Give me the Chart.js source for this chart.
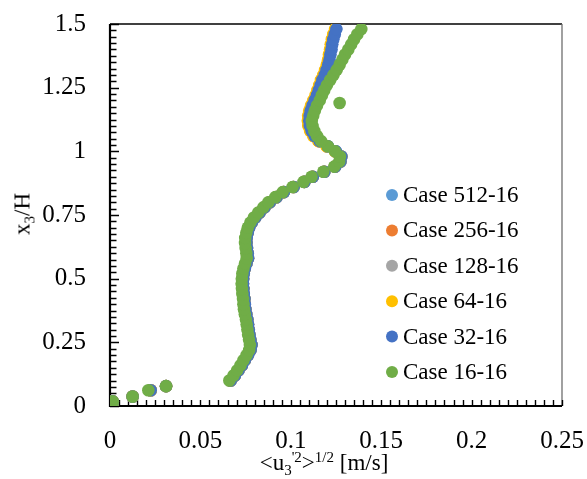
<!DOCTYPE html>
<html>
<head>
<meta charset="utf-8">
<script src="https://cdn.jsdelivr.net/npm/chart.js@4.4.1/dist/chart.umd.min.js"></script>
<style>
  html, body { margin: 0; padding: 0; background: #fff; }
  #wrap { position: relative; width: 587px; height: 479px; }
  .ttl { position: absolute; font-family: 'Liberation Serif', 'Times New Roman', serif; font-size: 23px; line-height: 23px; color: #000; white-space: nowrap; }
  .ttl sub, .ttl sup { font-size: 15px; line-height: 0; }
  .ttl sub { vertical-align: -5px; }
  .ttl sup { vertical-align: 8px; }
  #xt { left: 324px; top: 451px; transform: translateX(-50%); }
  #yt { left: 22px; top: 214px; transform: translate(-50%, -50%) rotate(-90deg); }
</style>
</head>
<body>
<div id="wrap">
  <canvas id="c" width="587" height="479"></canvas>
  <div class="ttl" id="xt">&lt;u<sub>3</sub><sup>'2</sup>&gt;<sup>1/2</sup> [m/s]</div>
  <div class="ttl" id="yt">x<sub>3</sub>/H</div>
</div>
<script>
// ---- data ----
const caseLabels = ['Case 512-16', 'Case 256-16', 'Case 128-16', 'Case 64-16', 'Case 32-16', 'Case 16-16'];
const caseColors = ['#5B9BD5', '#ED7D31', '#A5A5A5', '#FFC000', '#4472C4', '#70AD47'];
const xTickLabels = ['0', '0.05', '0.1', '0.15', '0.2', '0.25'];
const yTickLabels = ['0', '0.25', '0.5', '0.75', '1', '1.25', '1.5'];

// x3/H levels shared by all cases
const heights = [0, 0.006, 0.012, 0.018, 0.037, 0.062, 0.078,
  0.10, 0.12, 0.14, 0.16, 0.18, 0.20, 0.22, 0.24, 0.26, 0.28,
  0.30, 0.32, 0.34, 0.36, 0.38, 0.40, 0.42, 0.44, 0.46, 0.48,
  0.50, 0.52, 0.54, 0.56, 0.58, 0.60, 0.62, 0.64, 0.66, 0.68,
  0.70, 0.72, 0.74, 0.76, 0.78, 0.80, 0.82, 0.84, 0.86, 0.88,
  0.90, 0.92, 0.94, 0.96, 0.98, 1.00, 1.02, 1.04, 1.06, 1.08,
  1.10, 1.12, 1.14, 1.16, 1.18, 1.20, 1.22, 1.24, 1.26, 1.28,
  1.30, 1.32, 1.34, 1.36, 1.38, 1.40, 1.42, 1.44, 1.46, 1.48];

const rms512 = [0.0012, 0.0010, 0.0012, 0.0015, 0.0125, 0.0225, 0.0310,
  0.0667, 0.0690, 0.0710, 0.0729, 0.0745, 0.0763, 0.0777, 0.0782, 0.0776, 0.0771,
  0.0767, 0.0763, 0.0759, 0.0753, 0.0748, 0.0745, 0.0743, 0.0739, 0.0737, 0.0735,
  0.0736, 0.0739, 0.0745, 0.0754, 0.0763, 0.0761, 0.0757, 0.0754, 0.0755, 0.0761,
  0.0769, 0.0783, 0.0803, 0.0827, 0.0854, 0.0883, 0.0920, 0.0961, 0.1015, 0.1075,
  0.1121, 0.1185, 0.1245, 0.1274, 0.1279, 0.1248, 0.1203, 0.1158, 0.1130, 0.1113,
  0.1103, 0.1100, 0.1102, 0.1108, 0.1118, 0.1130, 0.1143, 0.1153, 0.1163, 0.1173,
  0.1186, 0.1196, 0.1205, 0.1212, 0.1217, 0.1223, 0.1227, 0.1233, 0.1241, 0.1250];

const rms256 = [0.0012, 0.0010, 0.0012, 0.0015, 0.0125, 0.0225, 0.0310,
  0.0667, 0.0690, 0.0710, 0.0729, 0.0745, 0.0763, 0.0777, 0.0782, 0.0776, 0.0771,
  0.0767, 0.0763, 0.0759, 0.0753, 0.0748, 0.0745, 0.0743, 0.0739, 0.0737, 0.0735,
  0.0736, 0.0739, 0.0745, 0.0754, 0.0763, 0.0761, 0.0757, 0.0754, 0.0755, 0.0761,
  0.0769, 0.0783, 0.0803, 0.0827, 0.0854, 0.0883, 0.0920, 0.0961, 0.1015, 0.1075,
  0.1121, 0.1185, 0.1245, 0.1274, 0.1279, 0.1246, 0.1200, 0.1155, 0.1127, 0.1110,
  0.1100, 0.1097, 0.1099, 0.1105, 0.1115, 0.1127, 0.1140, 0.1150, 0.1160, 0.1170,
  0.1183, 0.1193, 0.1202, 0.1209, 0.1214, 0.1220, 0.1224, 0.1230, 0.1238, 0.1248];

const rms128 = [0.0012, 0.0010, 0.0012, 0.0015, 0.0125, 0.0225, 0.0310,
  0.0667, 0.0690, 0.0710, 0.0729, 0.0745, 0.0763, 0.0777, 0.0782, 0.0776, 0.0771,
  0.0767, 0.0763, 0.0759, 0.0753, 0.0748, 0.0745, 0.0743, 0.0739, 0.0737, 0.0735,
  0.0736, 0.0739, 0.0745, 0.0754, 0.0763, 0.0761, 0.0757, 0.0754, 0.0755, 0.0761,
  0.0769, 0.0783, 0.0803, 0.0827, 0.0854, 0.0883, 0.0920, 0.0961, 0.1015, 0.1075,
  0.1121, 0.1185, 0.1245, 0.1274, 0.1279, 0.1247, 0.1202, 0.1157, 0.1129, 0.1112,
  0.1102, 0.1099, 0.1101, 0.1107, 0.1117, 0.1129, 0.1142, 0.1152, 0.1162, 0.1172,
  0.1185, 0.1195, 0.1204, 0.1211, 0.1216, 0.1222, 0.1226, 0.1232, 0.1240, 0.1249];

const rms64 = [0.0012, 0.0010, 0.0012, 0.0015, 0.0125, 0.0225, 0.0310,
  0.0667, 0.0690, 0.0710, 0.0729, 0.0745, 0.0763, 0.0777, 0.0782, 0.0776, 0.0771,
  0.0767, 0.0763, 0.0759, 0.0753, 0.0748, 0.0745, 0.0743, 0.0739, 0.0737, 0.0735,
  0.0736, 0.0739, 0.0745, 0.0754, 0.0763, 0.0761, 0.0757, 0.0754, 0.0755, 0.0761,
  0.0769, 0.0783, 0.0803, 0.0827, 0.0854, 0.0883, 0.0920, 0.0961, 0.1015, 0.1075,
  0.1121, 0.1185, 0.1245, 0.1274, 0.1279, 0.1245, 0.1198, 0.1153, 0.1124, 0.1107,
  0.1097, 0.1094, 0.1096, 0.1102, 0.1112, 0.1124, 0.1137, 0.1147, 0.1157, 0.1167,
  0.1180, 0.1190, 0.1199, 0.1206, 0.1211, 0.1217, 0.1221, 0.1227, 0.1235, 0.1245];

const rms32 = [0.0012, 0.0010, 0.0012, 0.0015, 0.0125, 0.0225, 0.0310,
  0.0668, 0.0691, 0.0711, 0.0730, 0.0746, 0.0764, 0.0778, 0.0783, 0.0777, 0.0772,
  0.0768, 0.0764, 0.0760, 0.0754, 0.0749, 0.0746, 0.0744, 0.0740, 0.0738, 0.0736,
  0.0737, 0.0740, 0.0746, 0.0755, 0.0764, 0.0762, 0.0758, 0.0755, 0.0756, 0.0762,
  0.0770, 0.0784, 0.0804, 0.0828, 0.0855, 0.0884, 0.0921, 0.0962, 0.1016, 0.1076,
  0.1122, 0.1186, 0.1246, 0.1275, 0.1280, 0.1250, 0.1205, 0.1160, 0.1132, 0.1115,
  0.1105, 0.1102, 0.1104, 0.1110, 0.1120, 0.1132, 0.1145, 0.1155, 0.1165, 0.1175,
  0.1188, 0.1198, 0.1207, 0.1214, 0.1219, 0.1225, 0.1229, 0.1235, 0.1243, 0.1252];

const rms16 = [0.0012, 0.0010, 0.0012, 0.0015, 0.0125, 0.0212, 0.0310,
  0.0660, 0.0683, 0.0703, 0.0722, 0.0738, 0.0756, 0.0770, 0.0774, 0.0769, 0.0764,
  0.0760, 0.0756, 0.0752, 0.0746, 0.0741, 0.0738, 0.0736, 0.0732, 0.0730, 0.0728,
  0.0729, 0.0732, 0.0738, 0.0747, 0.0756, 0.0754, 0.0750, 0.0747, 0.0748, 0.0754,
  0.0762, 0.0776, 0.0796, 0.0820, 0.0848, 0.0876, 0.0914, 0.0955, 0.1010, 0.1070,
  0.1115, 0.1180, 0.1240, 0.1268, 0.1272, 0.1245, 0.1205, 0.1168, 0.1145, 0.1130,
  0.1120, 0.1116, 0.1124, 0.1133, 0.1145, 0.1160, 0.1172, 0.1185, 0.1200, 0.1218,
  0.1236, 0.1254, 0.1270, 0.1285, 0.1300, 0.1318, 0.1334, 0.1350, 0.1368, 0.1390];

// isolated point of Case 16-16
const extra16X = [0.1270];
const extra16Y = [1.190];

const caseValues = [rms512, rms256, rms128, rms64, rms32, rms16];

// ---- build datasets ----
const datasets = caseValues.map((vals, k) => {
  const pts = vals.map((v, i) => ({ x: v, y: heights[i] }));
  if (k === 5) extra16X.forEach((v, i) => pts.push({ x: v, y: extra16Y[i] }));
  return {
    label: caseLabels[k],
    data: pts,
    backgroundColor: caseColors[k],
    borderColor: caseColors[k],
    borderWidth: 0,
    pointRadius: 6.3,
    pointHoverRadius: 6.3,
    showLine: false,
    order: caseValues.length - 1 - k
  };
});

const FONT = "'Liberation Serif', 'Times New Roman', serif";

const framePlugin = {
  id: 'frame',
  beforeDatasetsDraw(chart) {
    const { ctx, chartArea: a, scales: { x, y } } = chart;
    ctx.save();
    ctx.strokeStyle = '#000';
    ctx.lineWidth = 1.5;
    ctx.beginPath(); ctx.moveTo(a.left, a.top); ctx.lineTo(a.right, a.top); ctx.stroke();
    ctx.strokeStyle = '#6e6e6e';
    ctx.lineWidth = 1.3;
    ctx.beginPath(); ctx.moveTo(a.right, a.top); ctx.lineTo(a.right, a.bottom); ctx.stroke();
    ctx.strokeStyle = '#000';
    ctx.lineWidth = 1.4;
    ctx.beginPath();
    for (let i = 0; i <= 60; i++) {
      const py = Math.round(y.getPixelForValue(i * 0.025)) + 0.5;
      const len = (i % 10 === 0) ? 9 : 6.5;
      ctx.moveTo(a.left, py); ctx.lineTo(a.left + len, py);
    }
    for (let i = 0; i <= 50; i++) {
      const px = Math.round(x.getPixelForValue(i * 0.005)) + 0.5;
      ctx.moveTo(px, a.bottom); ctx.lineTo(px, a.bottom - 6);
    }
    ctx.stroke();
    ctx.lineWidth = 2.2;
    ctx.beginPath();
    ctx.moveTo(a.left, a.top); ctx.lineTo(a.left, a.bottom + 1);
    ctx.moveTo(a.left - 1, a.bottom); ctx.lineTo(a.right, a.bottom);
    ctx.stroke();
    ctx.restore();
  },
  afterDraw(chart) {
    const { ctx } = chart;
    ctx.save();
    ctx.font = '23px ' + FONT;
    ctx.textBaseline = 'middle';
    ctx.textAlign = 'left';
    chart.data.datasets.forEach((ds, i) => {
      const cy = 195 + i * 35.4;
      ctx.fillStyle = ds.backgroundColor;
      ctx.beginPath(); ctx.arc(392, cy, 6, 0, Math.PI * 2); ctx.fill();
      ctx.fillStyle = '#000';
      ctx.fillText(ds.label, 403, cy + 1);
    });
    ctx.restore();
  }
};

function draw() {
  new Chart(document.getElementById('c'), {
    type: 'scatter',
    data: { datasets },
    options: {
      responsive: false,
      animation: false,
      events: [],
      layout: { padding: { left: 0, top: 24, right: 25, bottom: 0 } },
      plugins: { legend: { display: false }, tooltip: { enabled: false } },
      scales: {
        x: {
          type: 'linear', position: 'bottom', min: 0, max: 0.25,
          grid: { display: false, drawTicks: false },
          border: { display: false },
          ticks: {
            stepSize: 0.05, autoSkip: false, maxRotation: 0, padding: 20,
            color: '#000', font: { family: FONT, size: 25 },
            callback: (v, i) => xTickLabels[i]
          },
          afterFit: s => { s.height = 73; s.paddingLeft = 0; s.paddingRight = 0; }
        },
        y: {
          type: 'linear', position: 'left', min: 0, max: 1.5,
          grid: { display: false, drawTicks: false },
          border: { display: false },
          ticks: {
            stepSize: 0.25, autoSkip: false, padding: 24,
            color: '#000', font: { family: FONT, size: 25 },
            callback: (v, i) => yTickLabels[i]
          },
          afterFit: s => { s.width = 110; s.paddingTop = 0; s.paddingBottom = 0; }
        }
      }
    },
    plugins: [framePlugin]
  });
}

if (document.fonts && document.fonts.load) {
  Promise.all([
    document.fonts.load("23px 'Liberation Serif'"),
    document.fonts.load("15px 'Liberation Serif'")
  ]).then(draw, draw);
} else {
  draw();
}
</script>
</body>
</html>
